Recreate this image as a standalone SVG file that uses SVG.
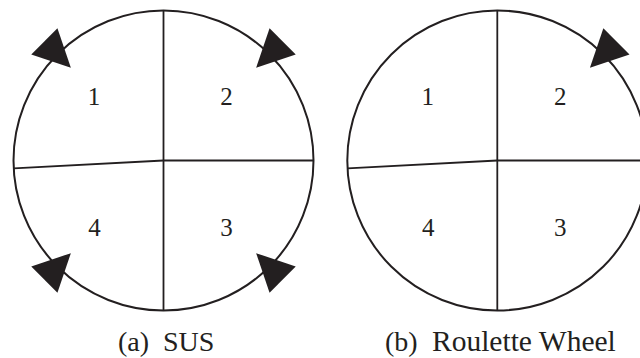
<svg xmlns="http://www.w3.org/2000/svg" width="640" height="358" viewBox="0 0 640 358">
<style>
.rim{fill:none;stroke:#231f20;stroke-width:2}
.div{fill:none;stroke:#231f20;stroke-width:1.8}
.ptr{fill:#231f20;stroke:none}
.num{font-family:'Liberation Serif','Times New Roman','DejaVu Serif',serif;font-size:25px;fill:#231f20;text-anchor:middle}
.cap{font-family:'Liberation Serif','Times New Roman','DejaVu Serif',serif;font-size:28px;fill:#231f20}
</style>
<defs>
<path id="pointer" class="ptr" d="M131,0 L168.5,-18.5 L168.5,18.5 Z"/>
</defs>
<g id="wheel-a">
<circle class="rim" cx="163.5" cy="160.5" r="150"/>
<g id="dividers-a">
<line class="div" x1="163.5" y1="10.5" x2="163.5" y2="310.5"/>
<line class="div" x1="163.5" y1="160.5" x2="313.5" y2="160.5"/>
<line class="div" x1="163.5" y1="160.5" x2="13.7" y2="168.4"/>
</g>
<text class="num" x="94" y="105">1</text>
<text class="num" x="226.5" y="105">2</text>
<text class="num" x="94.5" y="236">4</text>
<text class="num" x="226.5" y="236">3</text>
<g id="pointers-a">
<use href="#pointer" transform="translate(163.5 160.5) rotate(-135)"/>
<use href="#pointer" transform="translate(163.5 160.5) rotate(-45)"/>
<use href="#pointer" transform="translate(163.5 160.5) rotate(135)"/>
<use href="#pointer" transform="translate(163.5 160.5) rotate(45)"/>
</g>
</g>
<g id="wheel-b">
<circle class="rim" cx="497.3" cy="160.5" r="150"/>
<g id="dividers-b">
<line class="div" x1="497.3" y1="10.5" x2="497.3" y2="310.5"/>
<line class="div" x1="497.3" y1="160.5" x2="647.3" y2="160.5"/>
<line class="div" x1="497.3" y1="160.5" x2="347.5" y2="168.4"/>
</g>
<text class="num" x="427.8" y="105">1</text>
<text class="num" x="560.3" y="105">2</text>
<text class="num" x="428.3" y="236">4</text>
<text class="num" x="560.3" y="236">3</text>
<g id="pointers-b">
<use href="#pointer" transform="translate(497.3 160.5) rotate(-45)"/>
</g>
</g>
<g id="captions">
<text class="cap" x="118" y="351">(a)</text>
<text class="cap" x="163" y="351">SUS</text>
<text class="cap" x="385" y="351">(b)</text>
<text class="cap" x="432" y="351" style="font-size:29.5px">Roulette Wheel</text>
</g>
</svg>
